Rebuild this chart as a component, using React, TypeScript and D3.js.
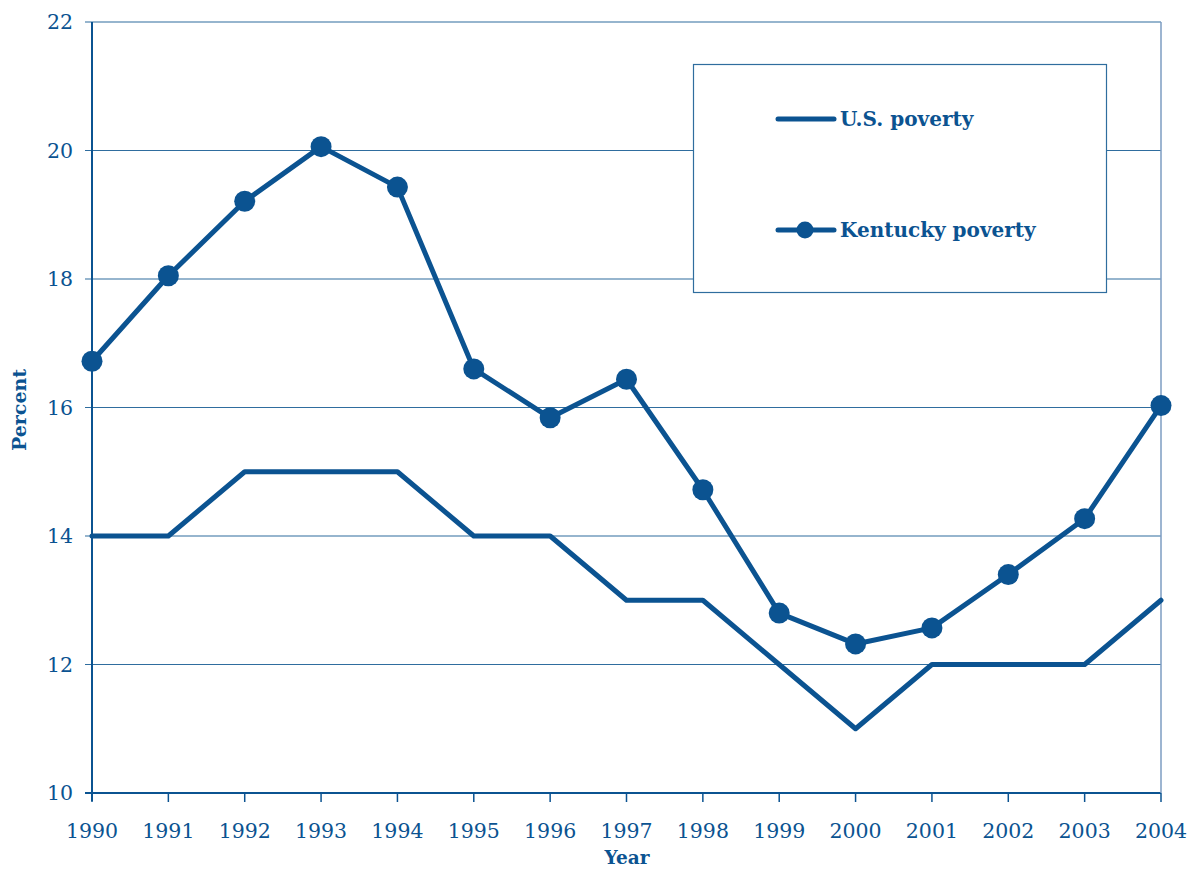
import React from "react";
import * as d3 from "d3";

const years = [1990, 1991, 1992, 1993, 1994, 1995, 1996, 1997, 1998, 1999, 2000, 2001, 2002, 2003, 2004];
const usPoverty = [14, 14, 15, 15, 15, 14, 14, 13, 13, 12, 11, 12, 12, 12, 13];
const kentuckyPoverty = [16.72, 18.05, 19.21, 20.06, 19.43, 16.6, 15.84, 16.44, 14.72, 12.8, 12.32, 12.57, 13.4, 14.27, 16.03];
const yTicks = [10, 12, 14, 16, 18, 20, 22];

const W = 1193, H = 869;
const left = 92, right = 1161, top = 22, bottom = 793;
const color = "#0b5391";
const gridColor = "#2f6d9e";
const font = "'DejaVu Serif', serif";

export default function App() {
  const x = d3.scaleLinear().domain([1990, 2004]).range([left, right]);
  const y = d3.scaleLinear().domain([10, 22]).range([bottom, top]);
  const line = d3.line<number>().x((_, i) => x(years[i])).y((d) => y(d));
  return (
    <svg width={W} height={H} style={{ position: "absolute", left: 0, top: 0, background: "#fff" }}>
      {yTicks.map((t) => (
        <g key={t}>
          <line x1={left - 7} x2={right} y1={y(t)} y2={y(t)} stroke={t === 10 ? color : gridColor} strokeWidth={t === 10 ? 2 : 1.2} />
          <text x={left - 19} y={y(t)} dy="0.35em" textAnchor="end" fontFamily={font} fontSize={20.5} fill={color}>{t}</text>
        </g>
      ))}
      <line x1={right} x2={right} y1={top} y2={bottom} stroke="#7c9dc2" strokeWidth={1.5} />
      <line x1={left} x2={left} y1={top} y2={bottom + 8} stroke={color} strokeWidth={2} />
      {years.map((yr) => (
        <g key={yr}>
          <line x1={x(yr)} x2={x(yr)} y1={bottom} y2={bottom + 9} stroke={color} strokeWidth={1.5} />
          <text x={x(yr)} y={bottom + 45} textAnchor="middle" fontFamily={font} fontSize={20.5} fill={color}>{yr}</text>
        </g>
      ))}
      <text x={627} y={864} textAnchor="middle" fontFamily={font} fontWeight="bold" fontSize={18.5} fill={color}>Year</text>
      <text transform={`translate(26,410) rotate(-90)`} textAnchor="middle" fontFamily={font} fontWeight="bold" fontSize={19} fill={color}>Percent</text>
      <path d={line(usPoverty) || ""} fill="none" stroke={color} strokeWidth={5} strokeLinejoin="round" strokeLinecap="round" />
      <path d={line(kentuckyPoverty) || ""} fill="none" stroke={color} strokeWidth={5} strokeLinejoin="round" strokeLinecap="round" />
      {kentuckyPoverty.map((v, i) => (
        <circle key={i} cx={x(years[i])} cy={y(v)} r={10.5} fill={color} />
      ))}
      <rect x={693.5} y={64.5} width={413} height={228} fill="#fff" stroke="#2f6d9e" strokeWidth={1.2} />
      <line x1={778} x2={834} y1={119} y2={119} stroke={color} strokeWidth={5} strokeLinecap="round" />
      <text x={840} y={119} dy="0.35em" fontFamily={font} fontWeight="bold" fontSize={20} fill={color}>U.S. poverty</text>
      <line x1={778} x2={834} y1={230} y2={230} stroke={color} strokeWidth={5} strokeLinecap="round" />
      <circle cx={805} cy={230} r={8.5} fill={color} />
      <text x={840} y={230} dy="0.35em" fontFamily={font} fontWeight="bold" fontSize={20} fill={color}>Kentucky poverty</text>
    </svg>
  );
}
